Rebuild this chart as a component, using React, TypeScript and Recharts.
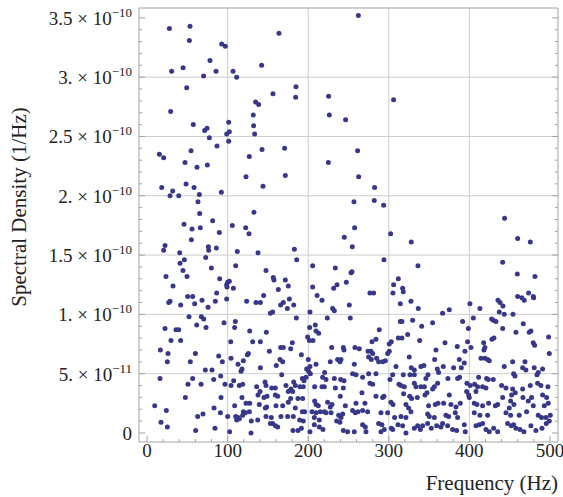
import { ScatterChart, Scatter, XAxis, YAxis, ReferenceLine, Label } from "recharts";

// [frequency (Hz), spectral density in units of 1e-11 /Hz]
const upperPoints = [
  [27.7, 34.1], [53.3, 34.3], [52.5, 33.1], [163.7, 33.7], [92.6, 32.8], [97.1, 32.6], [78.1, 31.4],
  [30.5, 30.5], [44.7, 30.8], [85.6, 30.5], [106.7, 30.5], [142.2, 31.0], [70.2, 30.1], [111.2, 30.0],
  [49.2, 29.1], [184.8, 29.2], [184.4, 28.3], [156.3, 28.6], [225.3, 28.4], [226.2, 26.8], [246.4, 26.4],
  [29.3, 27.1], [134.7, 27.9], [138.5, 27.7], [131.9, 26.8], [101.3, 26.2], [57.4, 26.0], [71.5, 25.5],
  [74.4, 25.7], [132.3, 25.9], [102.1, 25.4], [98.8, 25.2], [133.5, 25.2], [77.3, 24.9], [101.3, 24.6],
  [86.8, 24.2], [54.6, 23.8], [142.7, 23.9], [170.7, 24.0], [15.3, 23.5], [20.6, 23.2], [262.2, 35.2],
  [306.0, 28.1], [261.3, 23.8],
];

const middlePoints = [
  [47.1, 22.8], [62.0, 22.4], [74.8, 22.6], [126.9, 23.3], [122.8, 21.6], [171.6, 21.7], [143.9, 20.8],
  [225.0, 22.8], [18.2, 20.7], [31.8, 20.4], [28.5, 20.0], [39.3, 20.0], [48.4, 21.0], [58.3, 20.7],
  [64.9, 20.1], [92.2, 20.3], [63.2, 19.5], [65.3, 18.5], [132.7, 18.6], [45.9, 17.6], [55.8, 17.2],
  [66.1, 17.3], [81.4, 17.9], [105.8, 17.5], [122.4, 17.3], [126.5, 16.8], [89.7, 16.9], [55.0, 16.3],
  [244.8, 16.5], [22.3, 15.8], [20.6, 15.4], [76.1, 15.7], [76.5, 15.4], [86.0, 15.6], [40.5, 15.2],
  [112.0, 15.3], [137.7, 15.2], [182.8, 15.5], [185.7, 14.6], [72.8, 14.8], [46.3, 14.6], [40.9, 14.3],
  [110.0, 14.1], [79.8, 13.9], [44.6, 13.7], [205.5, 14.1], [233.6, 13.9], [23.5, 13.2], [49.6, 13.2],
  [147.6, 13.7], [156.7, 13.1], [157.5, 12.9], [171.6, 12.9], [175.3, 12.4], [162.9, 12.1], [90.1, 13.0],
  [100.0, 12.7], [102.1, 12.8], [98.8, 12.5], [99.2, 12.3], [107.1, 12.2], [32.2, 12.4], [86.4, 11.8],
  [205.5, 12.3], [231.6, 12.2], [235.7, 12.5], [247.3, 12.7], [50.4, 11.5], [56.6, 11.5], [144.7, 11.6],
  [211.0, 11.6], [262.6, 21.6], [282.4, 20.7], [256.8, 19.5], [282.0, 19.6], [293.6, 19.2], [257.6, 17.3],
  [254.7, 15.7], [302.3, 16.8], [327.9, 16.1], [443.7, 18.1], [459.9, 16.4], [475.6, 16.1], [294.0, 14.6],
  [336.2, 14.1], [441.3, 14.4], [459.5, 13.4], [481.4, 13.2], [253.1, 13.5], [254.3, 13.6], [311.8, 13.0],
  [306.0, 12.5], [317.2, 12.2], [318.0, 11.9], [276.6, 11.8], [281.2, 11.8], [305.2, 11.8], [473.5, 11.8],
  [479.3, 11.5], [459.9, 11.5],
];

const lowerLeftPoints = [
  [26.9, 11.0], [28.5, 11.1], [41.7, 10.8], [59.1, 10.9], [68.2, 11.2], [75.7, 10.6], [84.7, 11.1],
  [98.8, 11.3], [123.6, 11.1], [135.2, 11.0], [140.6, 11.0], [165.8, 10.8], [169.1, 11.0], [174.1, 10.5],
  [176.6, 11.3], [182.0, 10.8], [217.1, 11.2], [230.3, 10.5], [232.4, 10.3], [202.2, 10.2],
  [52.1, 9.8], [67.4, 9.8], [70.3, 9.6], [61.6, 9.1], [73.2, 8.9], [95.5, 9.3], [109.6, 9.4], [108.7, 8.9],
  [153.0, 10.1], [155.9, 10.2], [185.3, 9.7], [223.7, 9.7], [201.8, 8.9], [208.8, 9.1], [209.7, 8.6],
  [213.0, 8.4], [22.3, 8.8], [35.9, 8.7], [39.3, 8.7], [29.7, 7.8], [41.7, 7.8], [103.8, 7.7], [127.4, 8.6],
  [148.0, 8.5], [131.1, 7.7], [140.6, 7.7], [180.3, 7.6], [165.8, 7.2], [169.1, 7.2], [178.2, 7.1],
  [199.3, 8.1], [201.4, 7.8], [205.9, 7.8], [229.1, 7.2], [243.6, 7.2], [244.4, 7.0],
  [16.5, 7.0], [26.0, 6.7], [25.2, 6.0], [60.0, 6.7], [53.7, 6.0], [88.9, 6.5], [93.4, 6.0], [104.2, 6.3],
  [125.7, 6.7], [124.5, 6.6], [119.5, 6.1], [112.9, 5.8], [151.8, 6.9], [165.0, 6.2], [168.3, 6.0],
  [160.4, 5.7], [191.5, 6.6], [200.1, 6.2], [227.4, 6.0], [236.5, 6.2], [239.4, 6.0], [240.7, 6.2],
  [209.7, 5.8], [198.1, 5.4], [202.2, 5.6],
  [72.3, 5.3], [80.6, 5.3], [16.1, 4.6], [56.6, 4.6], [82.7, 4.5], [91.4, 4.8], [50.8, 4.1], [67.0, 4.1],
  [116.6, 5.2], [117.8, 5.4], [140.6, 5.5], [167.1, 4.9], [107.5, 4.4], [96.7, 4.1], [104.2, 4.0],
  [114.5, 4.0], [118.7, 4.1], [136.0, 3.9], [146.4, 4.3], [147.6, 4.0], [154.7, 3.8], [159.2, 3.8],
  [172.4, 4.0], [178.6, 3.7], [182.0, 4.3], [184.0, 4.0], [192.7, 4.6], [194.8, 4.4], [197.3, 4.7],
  [189.8, 3.9], [193.9, 3.9], [202.6, 5.0], [200.5, 5.2], [217.9, 4.7], [220.4, 5.1], [222.1, 4.5],
  [232.4, 4.6], [240.3, 4.5], [244.4, 4.4], [217.1, 3.9], [220.0, 3.9], [233.7, 3.8], [243.6, 3.8],
  [208.0, 3.9],
  [47.5, 3.0], [91.8, 3.0], [140.2, 3.5], [137.7, 3.2], [145.1, 3.0], [148.9, 3.1], [139.3, 2.4],
  [127.4, 2.5], [122.8, 2.5], [117.8, 3.0], [148.4, 2.2], [146.8, 2.1], [160.0, 2.3], [168.3, 2.3],
  [159.2, 3.2], [162.1, 3.1], [175.3, 3.5], [180.7, 3.5], [175.3, 2.6], [178.2, 2.9], [187.3, 2.9],
  [193.1, 2.9], [184.0, 2.1], [208.0, 2.7], [209.7, 2.4], [212.5, 2.3], [224.1, 2.6], [227.4, 2.2],
  [229.5, 2.4], [239.8, 3.1], [246.1, 2.3], [9.5, 2.3], [23.9, 1.9], [83.1, 2.1], [108.7, 2.3],
  [62.8, 1.4], [69.4, 1.6], [91.0, 1.7], [100.1, 1.4], [110.0, 1.4], [111.2, 1.1], [112.9, 1.3],
  [114.5, 1.2], [119.5, 1.8], [122.0, 1.7], [118.7, 1.5], [127.0, 1.8], [129.4, 1.0], [137.3, 1.1],
  [147.6, 1.4], [154.2, 1.3], [153.0, 0.8], [155.9, 0.8], [159.2, 0.6], [162.1, 0.5], [166.2, 1.4],
  [174.5, 1.4], [181.5, 1.4], [192.7, 1.8], [195.6, 1.8], [189.4, 1.1], [193.9, 1.0], [204.7, 1.8],
  [209.7, 1.7], [215.0, 1.8], [220.0, 1.8], [222.1, 1.7], [228.3, 1.7], [237.8, 1.5], [240.7, 1.3],
  [242.8, 1.6], [207.6, 1.3], [213.8, 1.1], [235.3, 1.0], [239.4, 0.9], [207.6, 0.7], [213.8, 0.5],
  [17.3, 0.9], [25.2, 0.5], [84.3, 0.4], [60.3, 0.2], [102.5, 0.1], [129.0, 0.0], [181.1, 0.2],
  [187.3, 0.2], [191.5, 0.4], [202.2, 0.1], [218.3, 0.3], [243.6, 0.2], [248.9, 0.1],
];

const lowerRightPoints = [
  [314.3, 10.9], [327.5, 11.1], [336.6, 10.5], [400.7, 10.9], [413.1, 10.5], [435.5, 11.2], [438.0, 11.0],
  [441.7, 10.7], [437.1, 10.2], [443.3, 10.0], [454.1, 10.0], [465.2, 11.4], [468.1, 11.2], [479.7, 11.4],
  [366.8, 10.1], [375.1, 10.4], [251.0, 10.8], [252.2, 9.7],
  [314.3, 9.4], [316.3, 9.4], [329.6, 9.5], [340.8, 9.0], [354.4, 9.3], [391.6, 9.4], [404.9, 9.7],
  [398.7, 8.8], [427.6, 9.6], [429.7, 9.5], [433.0, 9.4], [441.3, 8.8], [466.9, 9.2], [457.8, 8.5],
  [474.3, 8.5], [476.4, 8.6], [288.2, 8.7],
  [284.1, 7.9], [279.1, 7.7], [303.1, 7.7], [300.6, 7.5], [311.8, 8.0], [316.3, 8.0], [323.4, 8.3],
  [338.3, 7.8], [369.7, 7.6], [397.8, 7.7], [417.7, 7.6], [419.3, 7.2], [428.0, 7.9], [430.5, 8.0],
  [479.3, 7.6], [481.0, 7.4], [498.3, 8.1], [258.0, 7.2], [263.4, 7.1], [274.2, 6.9], [277.9, 6.9],
  [280.0, 6.7], [300.6, 6.9], [298.6, 6.7], [358.5, 7.0], [385.0, 7.3], [394.5, 6.9], [402.0, 7.2],
  [418.1, 7.0], [499.2, 6.7],
  [275.0, 6.4], [278.3, 6.2], [284.9, 6.3], [287.4, 6.0], [292.4, 6.0], [295.7, 6.1], [325.4, 6.4],
  [356.9, 6.2], [387.5, 6.2], [414.4, 6.3], [419.3, 6.3], [422.6, 6.2], [424.7, 6.1], [453.7, 6.0],
  [257.2, 5.8], [308.9, 5.6], [327.9, 5.5], [331.7, 5.3], [339.9, 5.6], [343.6, 5.7], [360.2, 5.4],
  [361.8, 5.1], [367.6, 5.6], [380.5, 5.5], [390.0, 5.5], [393.7, 5.9], [387.9, 4.7], [443.3, 5.6],
  [466.1, 5.5], [469.0, 6.0], [480.5, 5.5], [490.9, 5.4], [255.1, 5.0], [259.3, 4.9], [267.5, 4.7],
  [275.0, 5.0], [284.1, 5.0], [301.5, 4.5], [304.8, 4.9], [318.0, 4.9], [326.3, 4.9], [331.7, 4.9],
  [348.6, 4.9], [346.1, 4.6], [373.4, 4.6], [385.4, 4.6], [411.5, 4.7], [421.4, 4.6], [423.5, 4.5],
  [429.7, 4.5], [454.9, 5.0], [456.6, 4.8], [470.2, 5.3], [483.9, 4.9], [485.5, 5.1],
  [276.6, 4.2], [280.0, 4.1], [312.6, 4.1], [315.1, 4.0], [319.2, 3.9], [331.7, 4.2], [333.7, 3.9],
  [339.9, 3.9], [344.1, 3.9], [354.4, 3.7], [356.5, 3.9], [360.6, 4.2], [397.0, 4.2], [401.1, 4.0],
  [406.5, 4.1], [410.2, 3.9], [416.4, 3.9], [420.6, 3.8], [408.2, 3.5], [440.0, 4.0], [445.4, 3.8],
  [453.7, 3.7], [457.0, 3.4], [466.1, 3.7], [475.6, 4.0], [484.7, 4.2], [488.8, 4.0], [497.5, 3.9],
  [266.7, 3.4], [284.1, 3.1], [292.4, 3.0], [294.0, 3.1], [318.4, 3.3], [325.9, 3.1], [328.3, 2.9],
  [335.4, 3.0], [344.9, 3.2], [347.4, 3.4], [396.6, 3.5], [399.1, 3.2], [399.9, 3.0], [375.1, 3.2],
  [441.3, 3.0], [451.2, 2.7], [452.4, 3.2], [466.5, 3.0], [473.1, 2.7], [477.2, 3.0], [490.9, 3.2],
  [495.9, 3.0],
  [259.3, 2.5], [270.4, 2.5], [302.7, 2.6], [305.2, 2.4], [321.3, 2.4], [324.6, 2.1], [327.5, 1.8],
  [349.4, 2.3], [357.7, 2.4], [361.0, 2.5], [368.0, 2.5], [377.1, 2.4], [383.4, 2.2], [388.7, 2.5],
  [406.1, 2.5], [409.4, 2.4], [416.4, 2.3], [423.9, 2.5], [432.2, 2.3], [435.1, 2.4], [449.5, 2.1],
  [455.3, 2.4], [479.3, 2.3], [493.0, 2.3], [497.9, 2.5], [255.1, 1.9], [258.4, 1.7], [261.8, 1.8],
  [267.5, 1.9], [273.7, 1.8], [290.3, 1.7], [298.6, 1.7], [307.2, 1.3], [315.1, 1.4], [321.3, 1.3],
  [348.2, 1.6], [350.3, 1.4], [356.5, 1.3], [370.9, 1.5], [374.3, 1.4], [382.5, 1.7], [385.4, 1.3],
  [406.1, 1.7], [413.1, 1.5], [422.6, 1.5], [445.4, 1.7], [451.2, 1.5], [461.9, 1.5], [485.5, 1.5],
  [489.6, 1.3], [495.0, 1.3], [500.4, 1.5], [471.0, 1.8],
  [267.5, 0.7], [270.9, 0.5], [287.4, 0.8], [291.5, 0.7], [294.4, 0.3], [303.1, 0.4], [311.4, 0.7],
  [317.2, 0.6], [331.7, 0.4], [335.8, 0.6], [339.1, 0.3], [342.0, 0.6], [348.2, 0.8], [352.7, 0.4],
  [359.4, 0.6], [364.7, 0.5], [366.8, 0.8], [373.0, 0.6], [379.2, 0.3], [384.2, 0.2], [393.7, 0.7],
  [394.9, 0.1], [408.2, 0.6], [412.3, 0.7], [416.4, 0.8], [420.6, 0.3], [424.7, 0.1], [430.1, 0.4],
  [435.1, 0.1], [447.5, 0.8], [452.0, 0.6], [454.9, 0.7], [457.8, 0.4], [462.8, 0.3], [467.7, 0.1],
  [476.4, 0.6], [482.6, 0.2], [490.1, 0.4], [495.4, 0.8], [499.2, 1.0], [257.2, 0.1], [271.7, 0.1],
  [290.3, 0.1], [304.8, 0.3], [321.3, 0.0],
];

const xTicks = [0, 20, 40, 60, 80, 100, 120, 140, 160, 180, 200, 220, 240, 260, 280, 300, 320, 340, 360, 380, 400, 420, 440, 460, 480, 500];
const yTicks = [0, 1, 2, 3, 4, 5, 6, 7, 8, 9, 10, 11, 12, 13, 14, 15, 16, 17, 18, 19, 20, 21, 22, 23, 24, 25, 26, 27, 28, 29, 30, 31, 32, 33, 34, 35];
const xGrid = [100, 200, 300, 400];
const yGrid = [5, 10, 15, 20, 25, 30];
const yMajor = [0, 5, 10, 15, 20, 25, 30, 35];
const yMantissa = ["0", "5. \u00d7 10", "1. \u00d7 10", "1.5 \u00d7 10", "2. \u00d7 10", "2.5 \u00d7 10", "3. \u00d7 10", "3.5 \u00d7 10"];
const yExponent = ["", "\u221211", "\u221210", "\u221210", "\u221210", "\u221210", "\u221210", "\u221210"];

const data = [...upperPoints, ...middlePoints, ...lowerLeftPoints, ...lowerRightPoints].map(([f, d]) => ({ freq: f, density: d }));

const FONT = "'Liberation Serif', 'Times New Roman', serif";
const FRAME = "#a3a3a3";
const GRID = "#cdcdcd";
const DOT = "#383889";

// axis boxes must be at least 1px or recharts skips them; ticks drawn inward by hand
function BottomTick({ x, y, payload }: any) {
  const major = payload.value % 100 === 0;
  return (
    <g>
      <line x1={x} x2={x} y1={y} y2={y - (major ? 6 : 3)} stroke={FRAME} />
      {major && (
        <text x={x} y={y + 15} textAnchor="middle" fontFamily={FONT} fontSize={19} fill="#222">
          {payload.value}
        </text>
      )}
    </g>
  );
}

function TopTick({ x, y, payload }: any) {
  const major = payload.value % 100 === 0;
  return <line x1={x} x2={x} y1={y} y2={y + (major ? 6 : 3)} stroke={FRAME} />;
}

function LeftTick({ x, y, payload }: any) {
  const i = yMajor.indexOf(payload.value);
  return (
    <g>
      <line x1={x} x2={x + (i >= 0 ? 6 : 3)} y1={y} y2={y} stroke={FRAME} />
      {i >= 0 && (
        <text x={x - 7} y={y + 7} textAnchor="end" fontFamily={FONT} fontSize={19} fill="#222">
          {yMantissa[i]}
          {yExponent[i] && (
            <tspan fontSize={13} dy={-8}>
              {yExponent[i]}
            </tspan>
          )}
        </text>
      )}
    </g>
  );
}

function RightTick({ x, y, payload }: any) {
  const major = payload.value % 5 === 0;
  return <line x1={x} x2={x - (major ? 6 : 3)} y1={y} y2={y} stroke={FRAME} />;
}

export default function App() {
  return (
    <div style={{ position: "absolute", left: 0, top: 0 }}>
      <ScatterChart width={563} height={497} margin={{ top: 7, right: 4, bottom: 54, left: 0 }}>
        <XAxis
          xAxisId={0}
          type="number"
          dataKey="freq"
          domain={[-10, 510]}
          allowDataOverflow
          ticks={xTicks}
          interval={0}
          height={1}
          tickSize={0}
          tickMargin={0}
          tickLine={false}
          axisLine={{ stroke: FRAME }}
          tick={<BottomTick />}
        >
          <Label
            content={() => (
              <text x={558} y={490} textAnchor="end" fontFamily={FONT} fontSize={21} fill="#222">
                Frequency (Hz)
              </text>
            )}
          />
        </XAxis>
        <XAxis
          xAxisId="top"
          orientation="top"
          type="number"
          domain={[-10, 510]}
          allowDataOverflow
          ticks={xTicks}
          interval={0}
          height={1}
          tickSize={0}
          tickMargin={0}
          tickLine={false}
          axisLine={{ stroke: FRAME }}
          tick={<TopTick />}
        />
        <YAxis
          yAxisId={0}
          type="number"
          dataKey="density"
          domain={[-0.76, 35.83]}
          allowDataOverflow
          ticks={yTicks}
          interval={0}
          width={139}
          tickSize={0}
          tickMargin={0}
          tickLine={false}
          axisLine={{ stroke: FRAME }}
          tick={<LeftTick />}
        >
          <Label
            content={() => (
              <text
                x={26}
                y={207}
                transform="rotate(-90, 26, 207)"
                textAnchor="middle"
                fontFamily={FONT}
                fontSize={21}
                fill="#222"
              >
                Spectral Density (1/Hz)
              </text>
            )}
          />
        </YAxis>
        <YAxis
          yAxisId="right"
          orientation="right"
          type="number"
          domain={[-0.76, 35.83]}
          allowDataOverflow
          ticks={yTicks}
          interval={0}
          width={1}
          tickSize={0}
          tickMargin={0}
          tickLine={false}
          axisLine={{ stroke: FRAME }}
          tick={<RightTick />}
        />
        {xGrid.map((v) => (
          <ReferenceLine key={`gx${v}`} x={v} xAxisId={0} yAxisId={0} stroke={GRID} strokeWidth={1} />
        ))}
        {yGrid.map((v) => (
          <ReferenceLine key={`gy${v}`} y={v} xAxisId={0} yAxisId={0} stroke={GRID} strokeWidth={1} />
        ))}
        <Scatter
          data={data}
          xAxisId={0}
          yAxisId={0}
          isAnimationActive={false}
          shape={(p: any) => <circle cx={p.cx} cy={p.cy} r={2.5} fill={DOT} />}
        />
      </ScatterChart>
    </div>
  );
}
